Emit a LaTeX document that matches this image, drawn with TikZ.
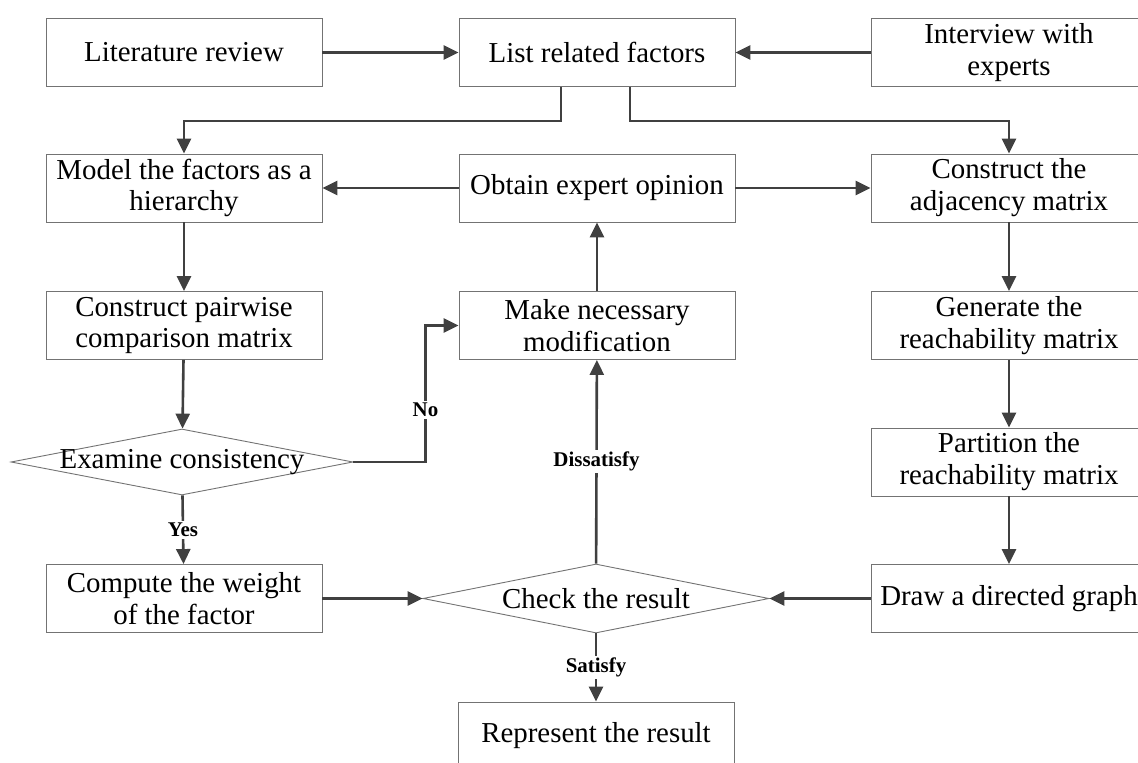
\documentclass[tikz,border=0pt]{standalone}
\usepackage{fontspec}
\setmainfont{Liberation Serif}
\usetikzlibrary{arrows.meta,shapes.geometric}
\begin{document}
\begin{tikzpicture}[x=1bp,y=-1bp,
	box/.style={draw=black!55,line width=0.9bp,minimum width=276bp,minimum height=68bp,inner sep=0pt,align=center,font=\fontsize{29}{32}\selectfont},
	decision/.style={diamond,draw=black!55,line width=0.9bp,inner sep=0pt,font=\fontsize{29}{32}\selectfont},
	line/.style={draw=black!75,line width=2.6bp},
	arrow/.style={line,-{Triangle[length=15bp,width=14bp]}},
	lbl/.style={fill=white,inner sep=2bp,font=\bfseries\fontsize{21}{24}\selectfont}]
	\useasboundingbox (0,0) rectangle (1138,763);
	\clip (0,0) rectangle (1138,763);
	% top row
	\node [box] (lit) at (184,52.5) {Literature review};
	\node [box] (list) at (597,52.5) {List related factors};
	\node [box] (inter) at (1009,52.5) {Interview with\\experts};
	% AHP side
	\node [box] (model) at (184,188) {Model the factors as a\\hierarchy};
	\node [box] (pair) at (184,325.5) {Construct pairwise\\comparison matrix};
	\node [decision,minimum width=342bp,minimum height=66bp] (exam) at (182,462) {\makebox[0pt]{Examine consistency}};
	\node [box] (weight) at (184,598.5) {Compute the weight\\of the factor};
	% middle
	\node [box] (obtain) at (597,188) {Obtain expert opinion};
	\node [box] (modif) at (597,325.5) {Make necessary\\modification};
	\node [decision,minimum width=346bp,minimum height=69bp] (check) at (596,598.5) {\makebox[0pt]{Check the result}};
	\node [box] (result) at (596,736) {Represent the result};
	% ISM side
	\node [box] (adj) at (1009,188) {Construct the\\adjacency matrix};
	\node [box] (reach) at (1009,325.5) {Generate the\\reachability matrix};
	\node [box] (part) at (1009,462) {Partition the\\reachability matrix};
	\node [box] (graph) at (1009,598.5) {Draw a directed graph};
	% connectors
	\draw [arrow] (lit) -- (list);
	\draw [arrow] (inter) -- (list);
	\draw [arrow] ([xshift=-36bp]list.south) -- ++(0,34) -| (model.north);
	\draw [arrow] ([xshift=33bp]list.south) -- ++(0,34) -| (adj.north);
	\draw [arrow] (obtain) -- (model);
	\draw [arrow] (obtain) -- (adj);
	\draw [arrow] (model) -- (pair);
	\draw [arrow] (pair) -- (exam);
	\draw [arrow] (exam) -- node [lbl] {Yes} (weight);
	\draw [arrow] (exam.east) -- ++(72,0) |- node [lbl,pos=0.19] {No} (modif.west);
	\draw [arrow] (weight) -- (check);
	\draw [arrow] (graph) -- (check);
	\draw [arrow] (check) -- node [lbl] {Dissatisfy} (modif);
	\draw [arrow] (modif) -- (obtain);
	\draw [arrow] (check) -- node [lbl] {Satisfy} (result);
	\draw [arrow] (adj) -- (reach);
	\draw [arrow] (reach) -- (part);
	\draw [arrow] (part) -- (graph);
\end{tikzpicture}
\end{document}
